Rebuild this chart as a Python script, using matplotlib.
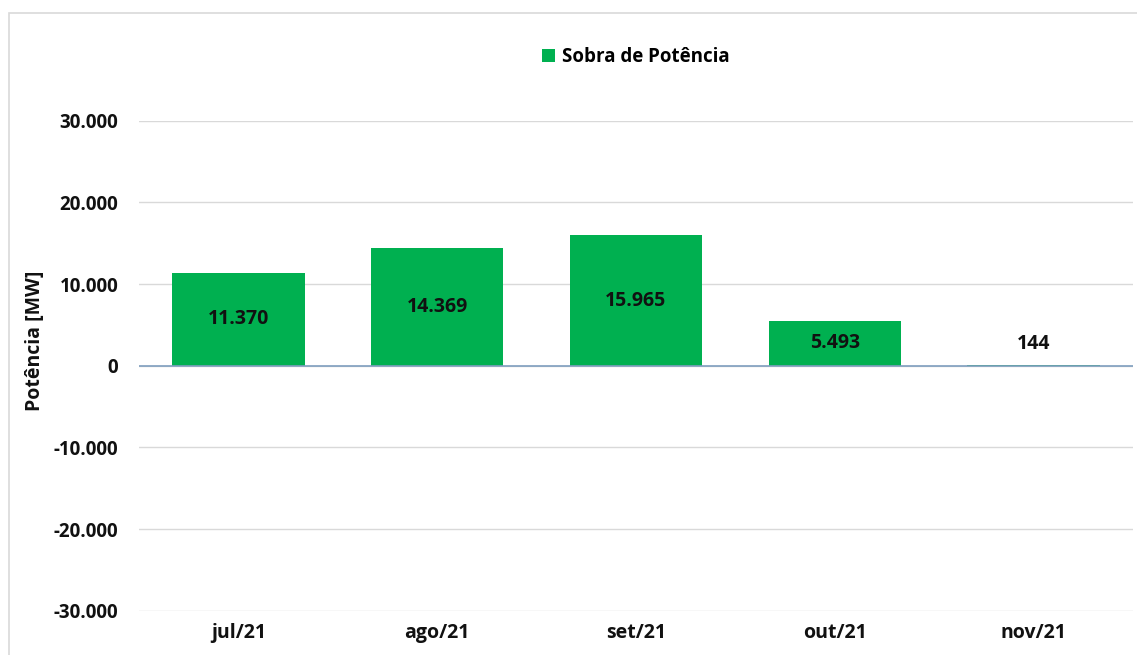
import matplotlib.pyplot as plt
from matplotlib.patches import Rectangle

meses = ['jul/21', 'ago/21', 'set/21', 'out/21', 'nov/21']
sobra = [11370, 14369, 15965, 5493, 144]
rotulos = ['11.370', '14.369', '15.965', '5.493', '144']
yticks = [-30000, -20000, -10000, 0, 10000, 20000, 30000]
ylabels = ['-30.000', '-20.000', '-10.000', '0', '10.000', '20.000', '30.000']

verde = '#00B050'
plt.rcParams['font.family'] = ['Open Sans', 'DejaVu Sans']
plt.rcParams['font.weight'] = 'bold'

fig = plt.figure(figsize=(11.37, 6.55), dpi=100)
W, H = 1137, 655
ax = fig.add_axes([139 / W, 1 - 610.7 / H, (1133 - 139) / W, (610.7 - 120.7) / H])

# moldura do grafico
fig.patches.append(Rectangle((9 / W, -0.1), 1.2, 1 - 13 / H + 0.1, transform=fig.transFigure,
                             fill=False, edgecolor='#d9d9d9', linewidth=1.2))

x = range(len(meses))
barras = ax.bar(x, sobra, width=0.665, color=verde, zorder=2, label='Sobra de Potência')

for i, (v, t) in enumerate(zip(sobra, rotulos)):
    if v > 2000:
        ax.text(i, v / 2, t, ha='center', va='center', fontsize=14, fontweight='bold', color='#111111', zorder=3)
    else:
        ax.text(i, v + 1300, t, ha='center', va='bottom', fontsize=14, fontweight='bold', color='#111111', zorder=3)

ax.set_xlim(-0.5, 4.5)
ax.set_ylim(-30000, 30000)
ax.set_yticks(yticks)
ax.set_yticklabels(ylabels, fontsize=13.5, fontweight='bold', color='#111111')
ax.set_xticks(list(x))
ax.set_xticklabels(meses, fontsize=14, fontweight='bold', color='#111111')
ax.tick_params(axis='x', length=0, pad=9)
ax.tick_params(axis='y', length=0, pad=15)

ax.grid(axis='y', color='#d9d9d9', linewidth=1, zorder=0)
ax.axhline(0, color='#7f9fbf', linewidth=1.2, zorder=3)
for s in ax.spines.values():
    s.set_visible(False)

fig.text(35 / W, 1 - 341 / H, 'Potência [MW]', rotation=90, ha='center', va='center',
         fontsize=14, fontweight='bold', color='#111111')

fig.legend(handles=[barras], loc='center', bbox_to_anchor=(636 / W, 1 - 57 / H), frameon=False,
           handlelength=0.65, handleheight=0.65, handletextpad=0.4,
           prop={'weight': 'bold', 'size': 13.5})

fig.savefig('out.png', dpi=100, facecolor='white')
